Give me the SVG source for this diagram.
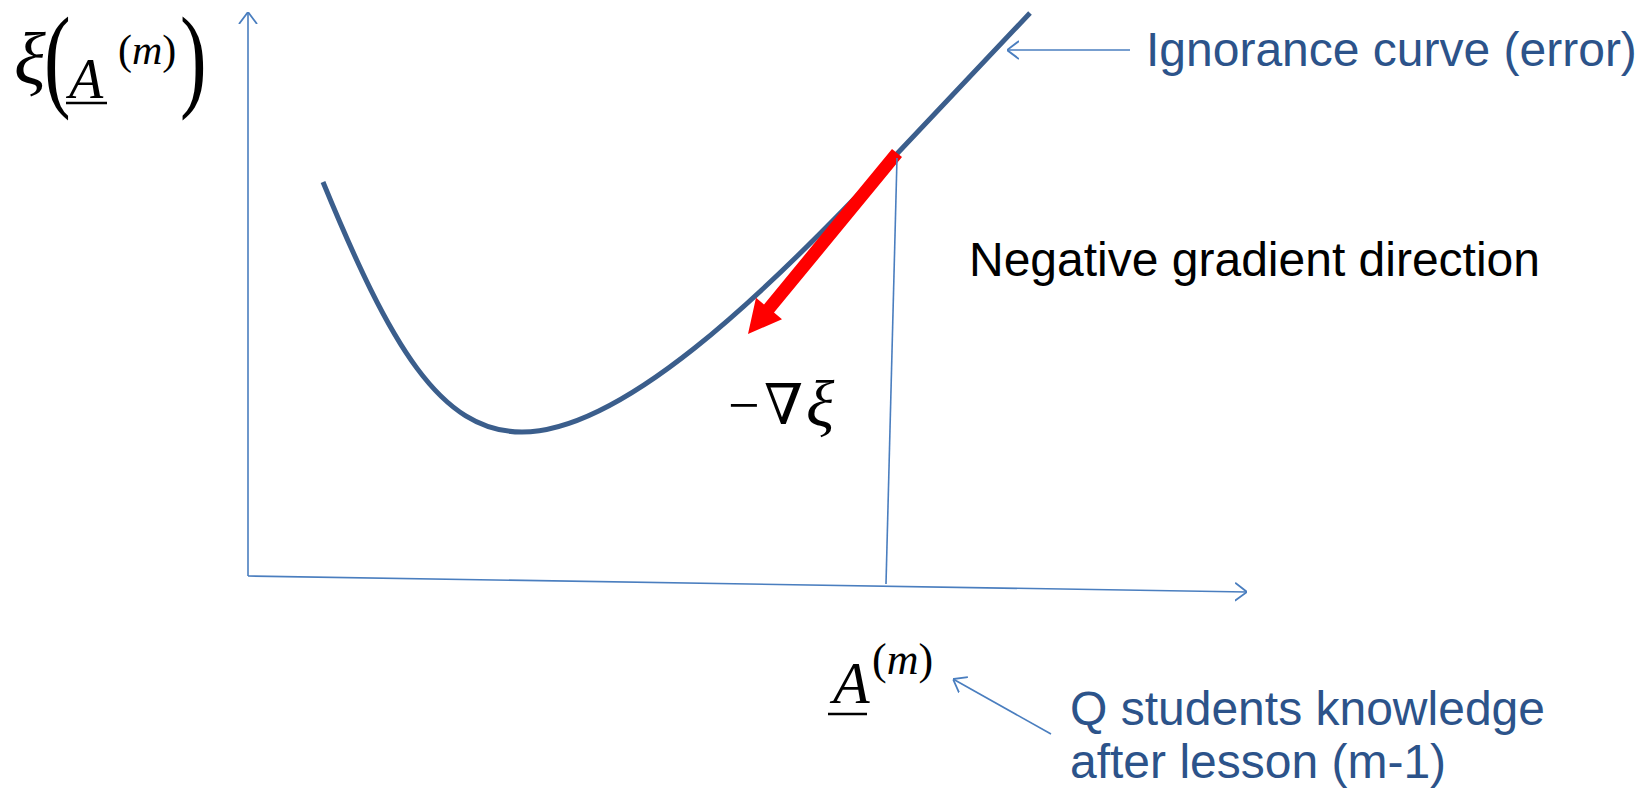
<svg xmlns="http://www.w3.org/2000/svg" width="1648" height="790" viewBox="0 0 1648 790">
<style>
.ax{fill:none;stroke:#4A7EBF;stroke-width:1.6}
.lbl{font-family:"Liberation Sans",Arial,sans-serif;font-size:48px;fill:#2C538A}
.blk{font-family:"Liberation Sans",Arial,sans-serif;font-size:48px;fill:#000}
.m{font-family:"Liberation Serif","DejaVu Serif",serif;fill:#000}
.it{font-style:italic}
</style>
<defs>
<marker id="open" viewBox="0 0 12 20" refX="12" refY="10" markerWidth="12" markerHeight="20" markerUnits="userSpaceOnUse" orient="auto">
<path d="M0,1 L12,10 L0,19" fill="none" stroke="#4A7EBF" stroke-width="1.8"/>
</marker>
</defs>
<rect width="1648" height="790" fill="#fff"/>
<g id="axes">
<line class="ax" x1="248" y1="576" x2="248" y2="12" marker-end="url(#open)"/>
<line class="ax" x1="248" y1="576" x2="1247" y2="592" marker-end="url(#open)"/>
</g>
<g id="curve">
<path d="M323,182 C390,345 440,432 522,432 C620,432 760,300 893,158 L1030,13" fill="none" stroke="#3B5E8C" stroke-width="5"/>
</g>
<g id="gradient-arrow">
<polygon points="892,148.9 902,157.1 774,312.6 782,319.3 748,334 756,297.7 764,304.4" fill="#FF0000"/>
</g>
<g id="y-label">
<text class="m it" x="14" y="84" font-size="74">ξ</text>
<text class="m" transform="translate(44,96) scale(1,1.44)" font-size="80">(</text>
<text class="m it" x="69" y="98" font-size="56">A</text>
<line x1="66" y1="103" x2="107" y2="103" stroke="#000" stroke-width="2.5"/>
<text class="m" x="118" y="64" font-size="42">(<tspan class="it">m</tspan>)</text>
<text class="m" transform="translate(180,96) scale(1,1.44)" font-size="80">)</text>
</g>
<g id="x-label">
<text class="m it" x="833" y="703" font-size="60">A</text>
<line x1="828" y1="714" x2="867" y2="714" stroke="#000" stroke-width="2.5"/>
<text class="m" x="872" y="674" font-size="44">(<tspan class="it">m</tspan>)</text>
</g>
<g id="neg-grad-label">
<text class="m" x="728" y="424" font-size="56">−</text>
<text class="m" x="764" y="424" font-size="56">∇</text>
<text class="m it" x="806" y="426" font-size="66">ξ</text>
</g>
<g id="ignorance-label">
<text class="lbl" x="1146" y="66">Ignorance curve (error)</text>
</g>
<g id="direction-label">
<text class="blk" x="969" y="276">Negative gradient direction</text>
</g>
<g id="knowledge-label">
<text class="lbl" x="1070" y="725">Q students knowledge</text>
<text class="lbl" x="1070" y="778">after lesson (m-1)</text>
</g>
<g id="connectors">
<line class="ax" x1="897" y1="158" x2="886" y2="584"/>
<line class="ax" x1="1130" y1="50" x2="1007" y2="50" marker-end="url(#open)"/>
<line class="ax" x1="1051" y1="734" x2="953" y2="679" marker-end="url(#open)"/>
</g>
</svg>
